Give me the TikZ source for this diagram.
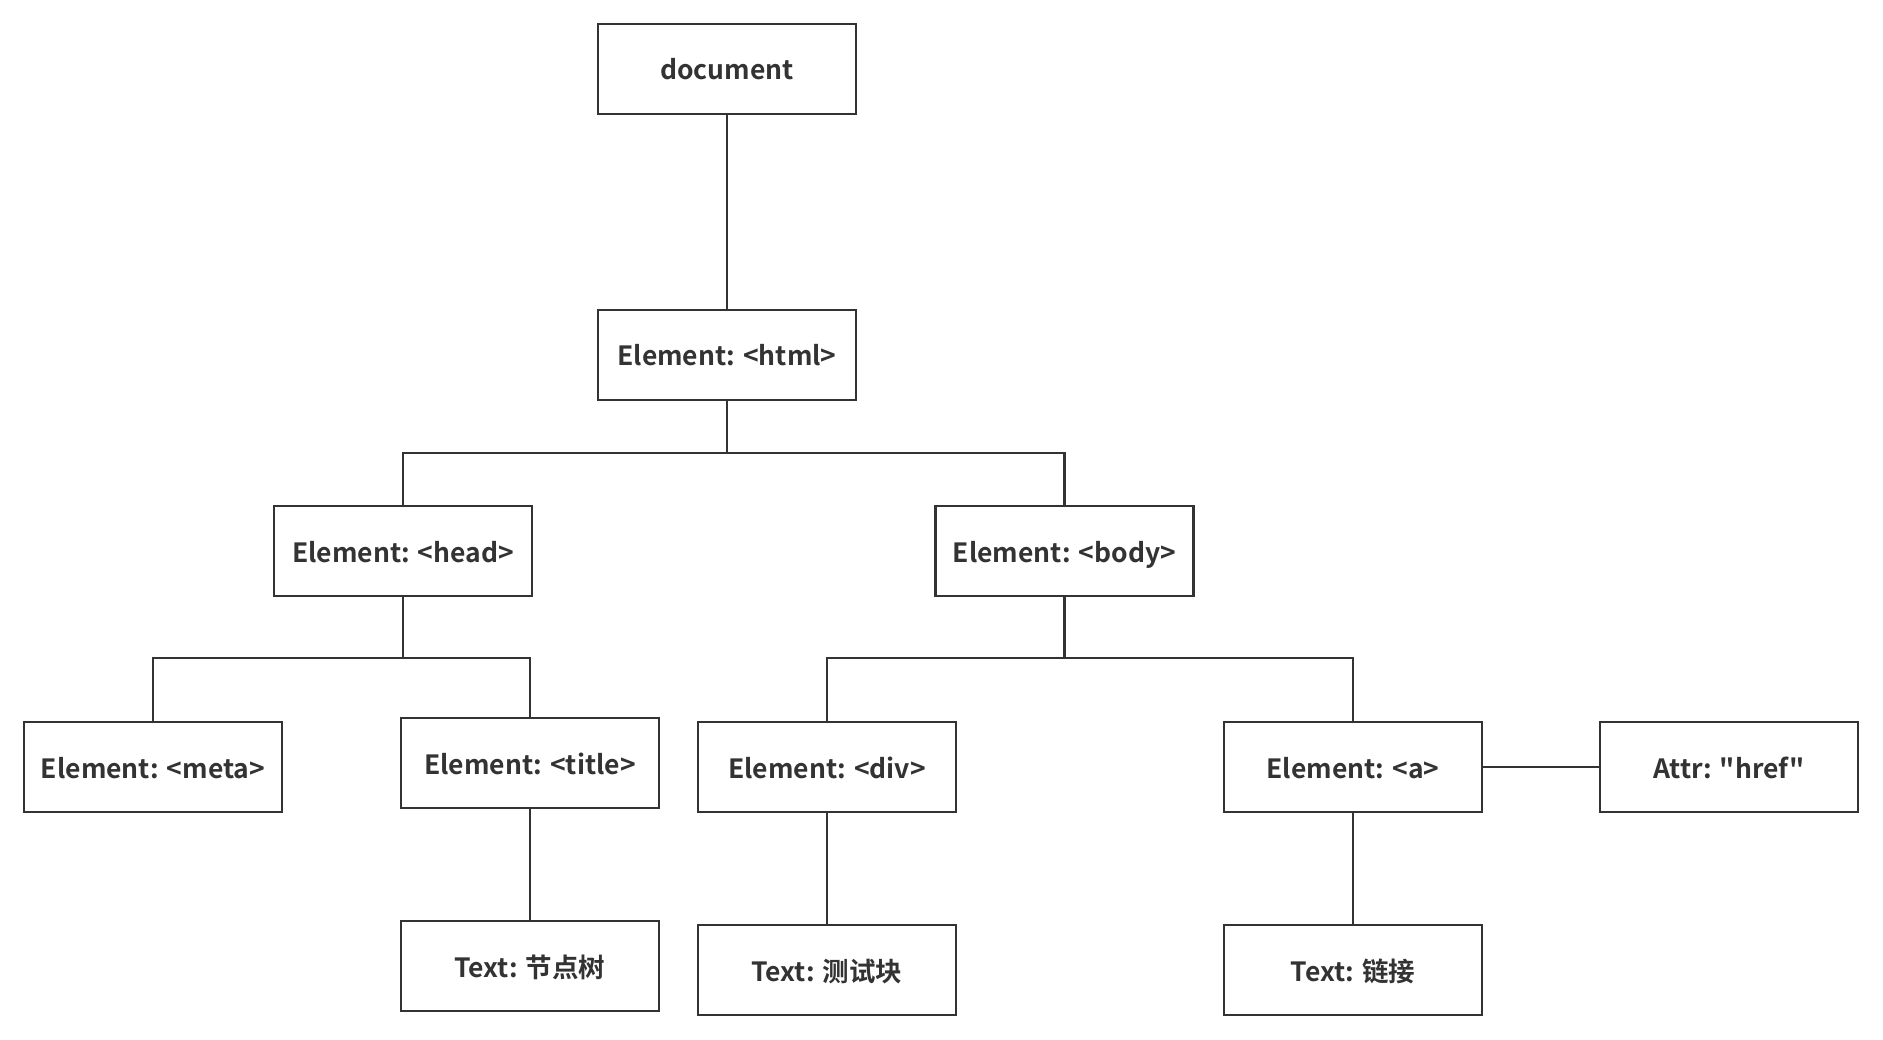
\documentclass[tikz,border=0pt]{standalone}
\usepackage{fontspec}
\newfontfamily\domfont{Noto Sans CJK SC Bold}
\usetikzlibrary{positioning}
\definecolor{ink}{HTML}{333333}
\tikzset{
  domnode/.style={draw=ink, line width=2.2pt, minimum width=258pt, minimum height=90pt,
    inner sep=0pt, text height=24pt, text depth=2pt, text=ink,
    font=\domfont\fontsize{26.5}{32}\selectfont},
  link/.style={draw=ink, line width=2.2pt}
}
\begin{document}
\begin{tikzpicture}[x=1pt, y=-1pt]
\useasboundingbox (0,0) rectangle (1883,1040);

% Tree nodes
\node[domnode] (doc)   at (727,69)    {document};
\node[domnode] (html)  at (727,355)   {Element: <html>};
\node[domnode] (head)  at (403,551)   {Element: <head>};
\node[domnode] (body)  at (1064.5,551) {Element: <body>};
\node[domnode] (meta)  at (153,767)   {Element: <meta>};
\node[domnode] (title) at (530,763)   {Element: <title>};
\node[domnode] (div)   at (827,767)   {Element: <div>};
\node[domnode] (a)     at (1353,767)  {Element: <a>};
\node[domnode] (href)  at (1729,767)  {Attr: "href"};
\node[domnode] (ttree) at (530,966)   {Text: 节点树};
\node[domnode] (tdiv)  at (827,970)   {Text: 测试块};
\node[domnode] (tlink) at (1353,970)  {Text: 链接};

% Branch points
\coordinate (jhtml) at (727,453);
\coordinate (jhead) at (403,658);
\coordinate (jbody) at (1064.5,658);

% Connectors
\draw[link] (doc) -- (html);
\draw[link] (html) -- (jhtml);
\draw[link] (head.north) |- (jhtml) -| (body.north);
\draw[link] (head) -- (jhead);
\draw[link] (meta.north) |- (jhead) -| (title.north);
\draw[link] (body) -- (jbody);
\draw[link] (div.north) |- (jbody) -| (a.north);
\draw[link] (a) -- (href);
\draw[link] (title) -- (ttree);
\draw[link] (div) -- (tdiv);
\draw[link] (a) -- (tlink);
\end{tikzpicture}
\end{document}
